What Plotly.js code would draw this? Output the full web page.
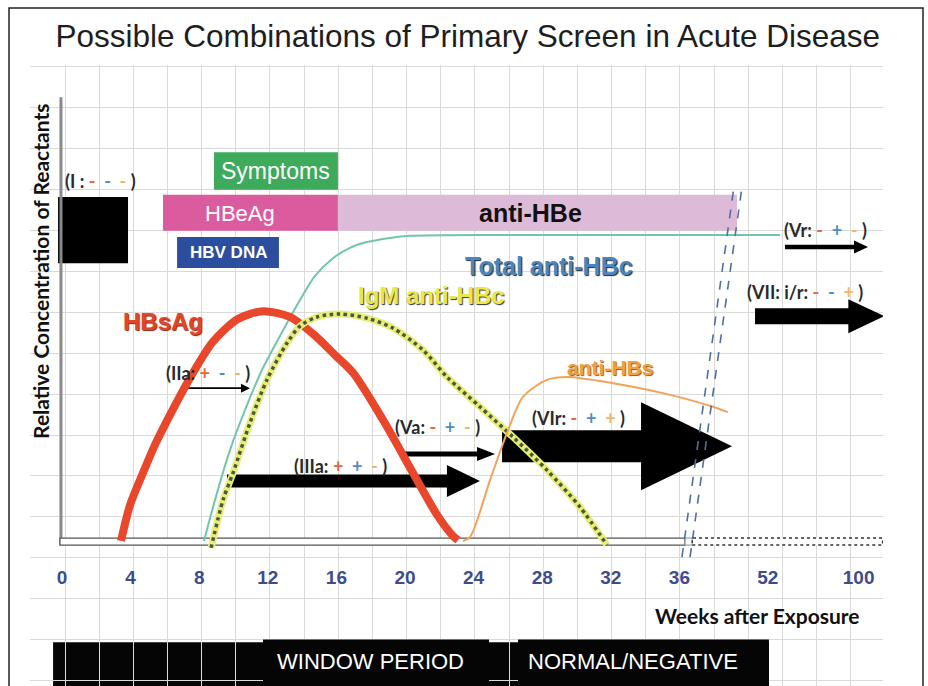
<!DOCTYPE html>
<html>
<head>
<meta charset="utf-8">
<script src="https://cdn.plot.ly/plotly-3.0.1.min.js"></script>
<style>html,body{margin:0;padding:0;background:#fff;}#chart{width:928px;height:686px;}</style>
</head>
<body>
<div id="chart"></div>
<script>
// ---------- DATA (x in axis position units: weeks up to 36, compressed beyond) ----------
const tickPos  = [0, 4, 8, 12, 16, 20, 24, 28, 32, 36, 41.15, 46.45];
const tickText = ['0','4','8','12','16','20','24','28','32','36','52','100'];

const hbsagX = [3.44,3.97,4.72,5.42,6.12,7.29,8.80,10.26,11.72,13.29,14.64,15.92,16.97,18.72,20.47,21.87,22.80,23.09];
const hbsagY = [0.05,0.92,1.69,2.37,2.95,3.86,4.86,5.41,5.60,5.46,5.05,4.54,4.11,2.97,1.69,0.68,0.17,0.07];

const igmX = [8.69,9.39,9.97,10.96,11.95,13.12,13.88,14.87,16.21,17.78,19.30,21.05,22.45,24.37,26.30,28.28,30.20,31.78];
const igmY = [-0.12,1.04,1.69,2.90,3.94,4.83,5.24,5.46,5.53,5.43,5.19,4.66,4.01,3.29,2.56,1.76,0.87,-0.05];

const totalX = [8.28,8.92,9.80,10.67,11.66,12.71,13.88,14.75,15.80,16.79,17.78,19.13,20.29,25.54,41.87];
const totalY = [0.05,1.04,2.25,3.21,4.18,5.00,5.87,6.45,6.88,7.13,7.27,7.37,7.42,7.44,7.44];

const antiHBsX = [23.38,23.79,24.96,25.95,26.88,28.28,29.45,32.13,35.04,37.96,38.83];
const antiHBsY = [0.05,0.14,1.52,2.66,3.53,3.94,4.01,3.86,3.62,3.29,3.16];

// marker bars (start, end, bottom, top)
const barNames  = ['I', 'Symptoms', 'HBeAg', 'anti-HBe', 'HBV DNA'];
const barStart  = [-0.23, 8.86, 5.89, 16.09, 6.71];
const barEnd    = [3.85, 16.09, 16.09, 39.36, 12.65];
const barBottom = [6.76, 8.53, 7.54, 7.54, 6.64];
const barTop    = [8.36, 9.44, 8.41, 8.41, 7.39];

// combination arrows (start, end, level)
const arrowNames = ['IIa','IIIa','Va','VIr','Vr','VII'];
const arrowStart = [7.06, 9.62, 19.88, 25.66, 42.16, 40.41];
const arrowEnd   = [10.96, 24.37, 25.25, 39.07, 47.0, 47.95];
const arrowLevel = [3.74, 1.50, 2.15, 2.34, 7.15, 5.48];

// combination labels
const comboNames = ['I ', 'IIa', 'IIIa', 'Va', 'VIr', 'Vr', 'VII: i/r'];
const comboSigns = [['-','-','-'],['+','-','-'],['+','+','-'],['-','+','-'],['-','+','+'],['-','+','-'],['-','-','+']];
const comboX = [2.22, 8.51, 16.21, 21.92, 30.09, 44.49, 43.32];
const comboY = [8.74, 4.11, 1.86, 2.80, 3.02, 7.56, 6.06];

// bottom period bands
const periodNames = ['', 'WINDOW PERIOD', 'NORMAL/NEGATIVE'];
const periodStart = [-0.52, 11.72, 26.59];
const periodEnd   = [41.22, 24.90, 41.22];

// ---------- STYLE / LAYOUT HELPERS ----------
const PXX = 17.15, PXY = 41.4;           // pixels per unit
const signColors = ['#E4683A', '#4C8CC4', '#F2B46A'];
const arrowStyle = [
  {hb:0.8, hh:4.5, hl:9},
  {hb:6.5, hh:16, hl:33},
  {hb:2.5, hh:7, hl:18},
  {hb:16, hh:44, hl:91},
  {hb:2.2, hh:6.5, hl:14},
  {hb:8, hh:17, hl:36}
];
const barFill = ['#000000', '#3DAA5C', '#DB5C9E', '#DDBAD7', '#2C4E9E'];

const shapes = [];
// frame
shapes.push({type:'rect', xref:'paper', yref:'paper', x0:-0.0246, x1:1.0469, y0:-0.05, y1:1.0918,
  line:{color:'#222', width:1.5}, fillcolor:'rgba(0,0,0,0)', layer:'above'});
// bottom black band under grid
periodNames.forEach((n,i)=>{
  shapes.push({type:'rect', xref:'x', yref:'y', x0:periodStart[i], x1:periodEnd[i],
    y0:-3.7, y1: i===0 ? -2.40 : -2.33, fillcolor:'#050505', line:{width:0}, layer: i===0?'below':'between'});
});
// bars
barNames.forEach((n,i)=>{
  shapes.push({type:'rect', xref:'x', yref:'y', x0:barStart[i], x1:barEnd[i], y0:barBottom[i], y1:barTop[i],
    fillcolor:barFill[i], line:{width:0}, layer:'between'});
});
// y axis line
shapes.push({type:'line', xref:'x', yref:'y', x0:-0.06, x1:-0.06, y0:-0.05, y1:10.77, line:{color:'#8A8A8A', width:3}, layer:'between'});
// baseline double bar
shapes.push({type:'rect', xref:'x', yref:'y', x0:-0.12, x1:36.33, y0:-0.05, y1:0.12, fillcolor:'#ffffff', line:{color:'#555', width:1.3}, layer:'between'});
shapes.push({type:'rect', xref:'x', yref:'y', x0:36.33, x1:36.75, y0:-0.05, y1:0.12, fillcolor:'#ffffff', line:{color:'#7a8fa8', width:1}, layer:'between'});
shapes.push({type:'rect', xref:'x', yref:'y', x0:36.75, x1:47.85, y0:-0.05, y1:0.12, fillcolor:'#ffffff', line:{color:'#333', width:1.5, dash:'dot'}, layer:'between'});
// arrows
arrowNames.forEach((n,i)=>{
  const s = arrowStyle[i];
  const xs = arrowStart[i], xe = arrowEnd[i], y = arrowLevel[i];
  const xh = xe - s.hl/PXX, b = s.hb/PXY, h = s.hh/PXY;
  const path = `M${xs},${y+b} L${xh},${y+b} L${xh},${y+h} L${xe},${y} L${xh},${y-h} L${xh},${y-b} L${xs},${y-b} Z`;
  shapes.push({type:'path', xref:'x', yref:'y', path:path, fillcolor:'#000', line:{width:0}, layer:'between'});
});
// dashed break lines
[[36.15,39.18],[36.62,39.65]].forEach(p=>{
  shapes.push({type:'line', xref:'x', yref:'y', x0:p[0], x1:p[1], y0:-0.34, y1:8.6,
    line:{color:'#4F6F9F', width:1.6, dash:'dash'}, layer:'above'});
});

const annotations = [];
function ann(text, x, y, font, extra) {
  annotations.push(Object.assign({text:text, x:x, y:y, xref:'x', yref:'y', showarrow:false,
    xanchor:'center', yanchor:'middle', font:font}, extra||{}));
}
// combo labels
comboNames.forEach((n,i)=>{
  const s = comboSigns[i].map((c,k)=>`<span style="color:${signColors[k]}">${c}</span>`).join('&nbsp; ');
  ann(`(${n}: ${s} )`, comboX[i], comboY[i], {family:'Lato', size:18, color:'#2a2a2a', weight:'bold'});
});
// bar labels
ann('Symptoms', 12.47, 8.98, {family:'Liberation Sans', size:23, color:'#ffffff'});
ann('HBeAg', 10.38, 7.97, {family:'Liberation Sans', size:22, color:'#ffffff'});
ann('anti-HBe', 27.29, 7.97, {family:'Liberation Sans', size:25, color:'#111', weight:'bold'});
ann('HBV DNA', 9.68, 7.02, {family:'Liberation Sans', size:17, color:'#ffffff', weight:'bold'});
// curve labels
ann('HBsAg', 5.89, 5.34, {family:'Liberation Sans', size:24, color:'#E2452A', weight:'bold', shadow:'1px 1px 1px #7a2a1a'});
ann('Total anti-HBc', 28.40, 6.69, {family:'Liberation Sans', size:25, color:'#4A86BE', weight:'bold', shadow:'1px 1px 1px #1d2a3a'});
ann('IgM anti-HBc', 21.57, 5.97, {family:'Liberation Sans', size:24, color:'#E8E84A', weight:'bold', shadow:'1px 1px 1px #333'});
ann('anti-HBs', 31.95, 4.25, {family:'Liberation Sans', size:21, color:'#F0A040', weight:'bold', shadow:'1px 1px 1px #8a5a20'});
// period labels
ann(periodNames[1], (periodStart[1]+periodEnd[1])/2 - 0.3, -2.87, {family:'Liberation Sans', size:22, color:'#ffffff'});
ann(periodNames[2], (periodStart[2]+periodEnd[2])/2 - 0.6, -2.87, {family:'Liberation Sans', size:22, color:'#ffffff'});
// axis titles
ann('Relative Concentration of Reactants', -1.22, 6.55, {family:'Lato', size:21, color:'#111', weight:'bold'}, {textangle:-90});
ann('Weeks after Exposure', 40.58, -1.74, {family:'Lato', size:21, color:'#111', weight:'bold'});

const traces = [
  {x: totalX, y: totalY, mode:'lines', line:{color:'#72C4AE', width:2, shape:'spline', smoothing:0.7}, hoverinfo:'skip'},
  {x: antiHBsX, y: antiHBsY, xaxis:'x2', mode:'lines', line:{color:'#F0A35A', width:2, shape:'spline', smoothing:0.8}, hoverinfo:'skip'},
  {x: hbsagX, y: hbsagY, mode:'lines', line:{color:'#E8472B', width:8, shape:'spline', smoothing:0.8}, hoverinfo:'skip'},
  {x: igmX, y: igmY, mode:'lines', line:{color:'#E6EE78', width:7, shape:'spline', smoothing:0.8}, hoverinfo:'skip'},
  {x: igmX, y: igmY, mode:'lines', line:{color:'#4E5640', width:3.5, dash:'dot', shape:'spline', smoothing:0.8}, hoverinfo:'skip'}
];

const xr = [-1.866, 47.872], yr = [-3.454, 11.546];
const layout = {
  width: 928, height: 686,
  margin: {l:30, r:45, t:65, b:0},
  paper_bgcolor:'#ffffff', plot_bgcolor:'#ffffff',
  showlegend:false,
  title: {text:'Possible Combinations of Primary Screen in Acute Disease', x:0.504, xref:'container', y:0.948, yref:'container', yanchor:'middle',
    font:{family:'Liberation Sans', size:31.5, color:'#1e1e1e'}},
  xaxis: {range:xr, tick0:0.175, dtick:1.992, showgrid:true, gridcolor:'#DADADA', gridwidth:1,
    showticklabels:false, zeroline:false, showline:false, ticks:'', fixedrange:true},
  xaxis2: {range:xr, overlaying:'x', anchor:'free', position:0.1965, side:'bottom', tickmode:'array', tickvals:tickPos, ticktext:tickText,
    showgrid:false, zeroline:false, showline:false, ticks:'',
    tickfont:{family:'Liberation Sans', size:19, color:'#3F4C8C', weight:'bold'}},
  yaxis: {range:yr, tick0:11.498, dtick:0.9879, showgrid:true, gridcolor:'#DADADA', gridwidth:1,
    showticklabels:false, zeroline:false, showline:false, ticks:''},
  shapes: shapes,
  annotations: annotations
};
Plotly.newPlot('chart', traces, layout, {staticPlot:true});
</script>
</body>
</html>
